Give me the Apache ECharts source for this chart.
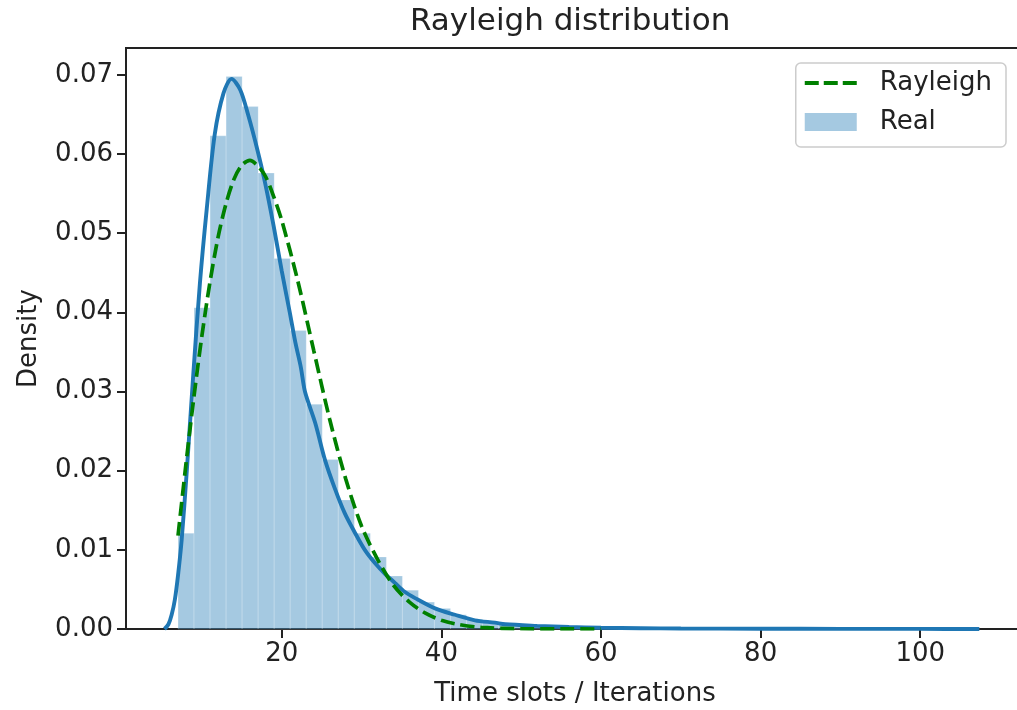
<!DOCTYPE html>
<html>
<head>
<meta charset="utf-8">
<script src="https://cdn.jsdelivr.net/npm/echarts@6/dist/echarts.min.js"></script>
<style>
  html, body { margin: 0; padding: 0; background: #fff; }
  #chart { width: 1017px; height: 710px; }
</style>
</head>
<body>
<div id="chart"></div>
<script>
// histogram: 50 bins from 7.0 to 107.4
var binStart = 7.0;
var binWidth = 2.008;
var histDensity = [
  0.0121, 0.0406, 0.0623, 0.0698, 0.0660, 0.0576, 0.0468, 0.0377, 0.0284, 0.0214,
  0.0163, 0.0121, 0.0091, 0.0067, 0.0049, 0.0034, 0.0026, 0.0018, 0.0012, 0.0009,
  0.0007, 0.0005, 0.0004, 0.0003, 0.00025, 0.0002, 0.00016, 0.00013, 0.0001, 0.00008,
  0.00007, 0.00006, 0.00005, 0.00004, 0.00003, 0.00003, 0.00002, 0.00002, 0.00002, 0.00001,
  0.00001, 0.00001, 0.00001, 0.00001, 0.00001, 0.00001, 0.00001, 0.00001, 0.00001, 0.00001
];

// kde curve of the real data
var kdeX = [5.3, 5.8, 6.2, 6.6, 7.0, 7.45, 8.1, 8.9, 9.75, 10.6, 11.6, 12.7, 13.7, 14.8, 15.8,
  16.9, 17.9, 19.0, 20.0, 21.0, 21.7, 22.4, 22.9, 24.2, 25.4, 26.7, 27.9, 29.2, 30.4, 31.7,
  32.9, 34.2, 35.4, 36.7, 39.2, 41.7, 44.2, 46.7, 48.0, 52, 56, 60, 65, 70, 80, 90, 100, 107.4];
var kdeY = [0, 0.0006, 0.0018, 0.0037, 0.0068, 0.0112, 0.0200, 0.0320, 0.0438, 0.0531, 0.0625, 0.0677, 0.0695, 0.0681, 0.0649,
  0.0607, 0.0564, 0.0508, 0.0452, 0.0400, 0.0362, 0.0330, 0.0300, 0.0260, 0.0214, 0.0176, 0.0146, 0.0121, 0.0100, 0.0083,
  0.0070, 0.0058, 0.0047, 0.0039, 0.0026, 0.0018, 0.0011, 0.0008, 0.0006, 0.0004, 0.00025, 0.00015, 0.0001, 0.00007, 0.00004, 0.00002, 0.00001, 0];

// fitted rayleigh curve
var rayX = [7, 8, 9, 10, 11, 12, 13, 14, 15, 16, 17, 18, 19, 20, 22, 24, 26, 28, 30, 32, 34, 36, 38, 40, 42, 45, 50, 55, 60];
var rayY = [0.0118, 0.0209, 0.0294, 0.0371, 0.0438, 0.0494, 0.0537, 0.0568, 0.0586, 0.0592, 0.0585, 0.0571, 0.0546, 0.0516,
  0.0440, 0.0352, 0.0265, 0.0190, 0.0130, 0.0088, 0.0055, 0.0034, 0.0020, 0.0011, 0.0006, 0.0002, 0.00004, 0.00001, 0];

var xTicks = [20, 40, 60, 80, 100];
var yTicks = [0, 0.01, 0.02, 0.03, 0.04, 0.05, 0.06, 0.07];

var histData = [];
for (var i = 0; i < histDensity.length; i++) {
  histData.push([binStart + i * binWidth, binStart + (i + 1) * binWidth, histDensity[i]]);
}
var kdeData = kdeX.map(function (x, i) { return [x, kdeY[i]]; });
var rayData = rayX.map(function (x, i) { return [x, rayY[i]]; });

var txt = '#222';
var font = 'DejaVu Sans';
// three dashes for the legend handle
var dashIcon = 'path://M0,0h14v4h-14zM19,0h14v4h-14zM38,0h14v4h-14z';

var myChart = echarts.init(document.getElementById('chart'));
myChart.setOption({
  animation: false,
  textStyle: { fontFamily: font },
  title: {
    text: 'Rayleigh distribution',
    left: 410,
    top: 6,
    padding: 0,
    textStyle: { fontFamily: font, fontSize: 31, fontWeight: 'normal', color: txt }
  },
  legend: {
    orient: 'vertical',
    right: 11,
    top: 63,
    padding: [5, 14, 10, 9],
    itemGap: 9,
    itemWidth: 52,
    itemHeight: 18,
    borderColor: '#cccccc',
    borderWidth: 1.5,
    borderRadius: 5,
    backgroundColor: 'rgba(255,255,255,0.8)',
    textStyle: { fontFamily: font, fontSize: 26, color: txt, lineHeight: 30, padding: [0, 0, 0, 18] },
    data: [
      { name: 'Rayleigh', icon: dashIcon, itemStyle: { color: '#008000' } },
      { name: 'Real', icon: 'rect' }
    ]
  },
  // right spine sits just past the picture edge, as in the cropped original
  grid: {
    left: 126, top: 48, width: 898, height: 581,
    outerBoundsMode: 'none',
    show: true, borderColor: '#222', borderWidth: 2
  },
  xAxis: {
    type: 'value',
    min: 0.48,
    max: 113.0,
    name: 'Time slots / Iterations',
    nameLocation: 'middle',
    nameGap: 52,
    nameTextStyle: { fontFamily: font, fontSize: 26, color: txt },
    axisLine: { show: true, onZero: false, lineStyle: { color: '#222', width: 2 } },
    axisTick: { show: true, length: 9, customValues: xTicks, lineStyle: { color: '#222', width: 2 } },
    axisLabel: { customValues: xTicks, margin: 12, fontFamily: font, fontSize: 26, color: txt },
    splitLine: { show: false }
  },
  yAxis: {
    type: 'value',
    min: 0,
    max: 0.0734,
    name: 'Density',
    nameLocation: 'middle',
    nameGap: 84,
    nameTextStyle: { fontFamily: font, fontSize: 26, color: txt },
    axisLine: { show: true, lineStyle: { color: '#222', width: 2 } },
    axisTick: { show: true, length: 9, customValues: yTicks, lineStyle: { color: '#222', width: 2 } },
    axisLabel: {
      customValues: yTicks, margin: 13, fontFamily: font, fontSize: 26, color: txt,
      formatter: function (v) { return v.toFixed(2); }
    },
    splitLine: { show: false }
  },
  series: [
    {
      name: 'Real',
      type: 'custom',
      itemStyle: { color: 'rgba(31,119,180,0.4)' },
      encode: { x: [0, 1], y: 2 },
      data: histData,
      z: 1,
      renderItem: function (params, api) {
        var p0 = api.coord([api.value(0), api.value(2)]);
        var p1 = api.coord([api.value(1), 0]);
        return {
          type: 'rect',
          shape: { x: p0[0], y: p0[1], width: p1[0] - p0[0], height: p1[1] - p0[1] },
          style: { fill: 'rgba(31,119,180,0.4)', stroke: 'rgba(255,255,255,0.2)', lineWidth: 1 }
        };
      }
    },
    {
      name: 'KDE',
      type: 'line',
      data: kdeData,
      symbol: 'none',
      smooth: 0.3,
      z: 2,
      lineStyle: { color: '#1f77b4', width: 3.9 },
      itemStyle: { color: '#1f77b4' }
    },
    {
      name: 'Rayleigh',
      type: 'line',
      data: rayData,
      symbol: 'none',
      smooth: 0.3,
      z: 3,
      lineStyle: { color: '#008000', width: 3.7, type: [14, 6] },
      itemStyle: { color: '#008000' }
    }
  ]
});
</script>
</body>
</html>
